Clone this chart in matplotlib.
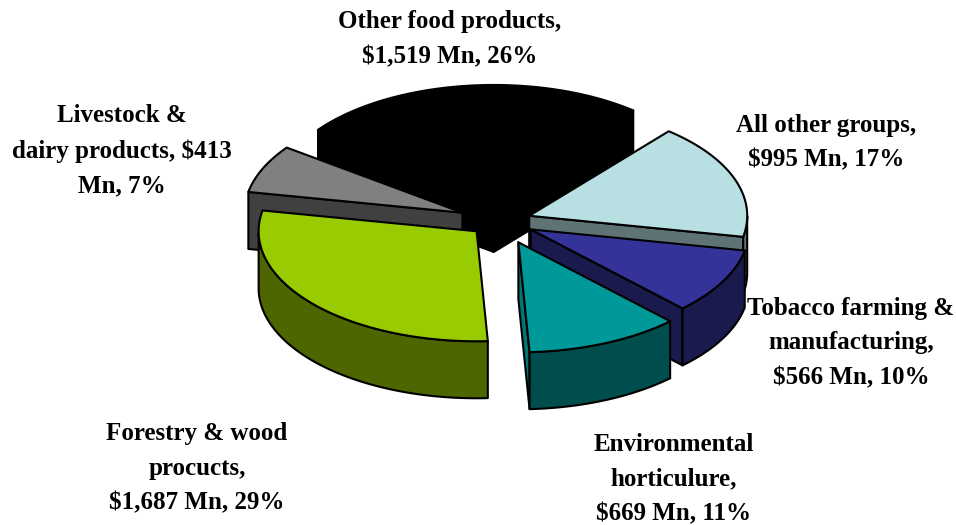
import numpy as np
import matplotlib
matplotlib.use('Agg')
import matplotlib.pyplot as plt
from matplotlib.patches import Polygon

# clockwise order, starts at the edge between All other groups and Other food
names = ['All other groups', 'Tobacco farming & manufacturing', 'Environmental horticulure',
         'Forestry & wood procucts', 'Livestock & dairy products', 'Other food products']
values = [995, 566, 669, 1687, 413, 1519]
labels = ['All other groups,\n$995 Mn, 17%',
          'Tobacco farming &\nmanufacturing,\n$566 Mn, 10%',
          'Environmental\nhorticulure,\n$669 Mn, 11%',
          'Forestry & wood\nprocucts,\n$1,687 Mn, 29%',
          'Livestock &\ndairy products, $413\nMn, 7%',
          'Other food products,\n$1,519 Mn, 26%']

top_colors = ['#B8E0E3', '#333399', '#009999', '#99CC00', '#808080', '#000000']
side_colors = ['#5F7374', '#1A1A4D', '#007777', '#4D6600', '#404040', '#000000']
arc_colors = ['#5F7374', '#1A1A4D', '#004D4D', '#4D6600', '#404040', '#000000']
explode = [31, 35, 46, 31, 41, 52]
label_pos = [(826, 142.5), (851, 343), (674, 479), (197, 468), (122, 151), (450, 39)]

# pie geometry in figure pixels
cx, cy = 500, 221
rx, ry = 218, 110
depth = 57
start = 50.2
draw_order = [5, 4, 3, 0, 1, 2]

fig = plt.figure(figsize=(9.56, 5.25), dpi=100)
ax = fig.add_axes([0, 0, 1, 1])
ax.set_xlim(0, 956)
ax.set_ylim(525, 0)
ax.axis('off')

spans = np.array(values) / sum(values) * 360
edges = start - np.concatenate([[0], np.cumsum(spans)])


def project(deg, x0, y0, r=1.0):
    t = np.radians(deg)
    return x0 + r * rx * np.cos(t), y0 - r * ry * np.sin(t)


def add_poly(pts, color, z):
    ax.add_patch(Polygon(pts, closed=True, facecolor=color, edgecolor='black',
                         linewidth=1.5, joinstyle='round', zorder=z))


for z, i in enumerate(draw_order):
    hi, lo = edges[i], edges[i + 1]
    mid = np.radians((hi + lo) / 2)
    x0 = cx + explode[i] * np.cos(mid)
    y0 = cy - explode[i] * np.sin(mid) * ry / rx

    theta = np.linspace(hi, lo, 80)
    ax_x, ax_y = project(theta, x0, y0)
    z0 = z * 10

    # radial walls, only those which face the viewer
    for edge, normal, off in [(hi, hi + 90, 1), (lo, lo - 90, 2)]:
        if np.sin(np.radians(normal)) < 0:
            ex, ey = project(edge, x0, y0)
            add_poly([(x0, y0), (ex, ey), (ex, ey + depth), (x0, y0 + depth)], side_colors[i], z0 + off)

    # outer wall, front half only
    front = theta[np.sin(np.radians(theta)) < 0]
    if len(front) > 1:
        fx, fy = project(front, x0, y0)
        pts = list(zip(fx, fy)) + list(zip(fx[::-1], fy[::-1] + depth))
        add_poly(pts, arc_colors[i], z0 + 3)

    add_poly([(x0, y0)] + list(zip(ax_x, ax_y)), top_colors[i], z0 + 4)

for text, pos in zip(labels, label_pos):
    ax.text(pos[0], pos[1], text, ha='center', va='center', ma='center', color='black',
            family='Liberation Serif', weight='bold', fontsize=18, linespacing=1.65,
            parse_math=False, zorder=100)

fig.savefig('out.png', dpi=100)
